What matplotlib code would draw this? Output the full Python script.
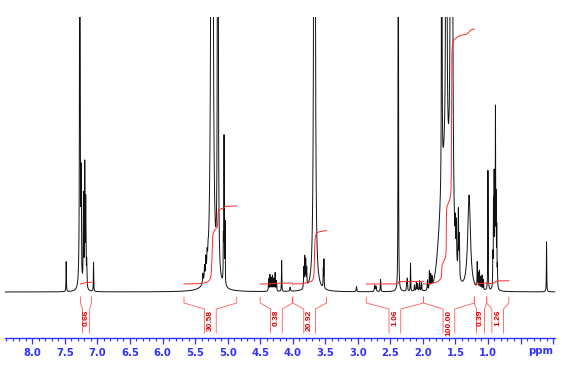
import numpy as np
import matplotlib.pyplot as plt
from matplotlib.ticker import MultipleLocator

# peaks: position (ppm), height (px above baseline), half width (ppm)
peak_ppm = [7.48, 7.27, 7.25, 7.215, 7.195, 7.18, 7.165, 7.06,
            5.38, 5.355, 5.335, 5.315, 5.30, 5.24, 5.15, 5.065, 5.055, 5.04,
            4.37, 4.35, 4.33, 4.31, 4.29, 4.27, 4.25, 4.17, 4.04,
            3.83, 3.815, 3.80, 3.785, 3.665, 3.53, 3.52, 3.02,
            2.74, 2.72, 2.65, 2.378, 2.25, 2.24, 2.19, 2.13, 2.10, 2.08, 2.05, 2.02,
            1.93, 1.90, 1.88, 1.86, 1.71, 1.64, 1.56, 1.50, 1.485, 1.455, 1.44,
            1.29, 1.165, 1.15, 1.13, 1.11, 1.09, 1.07, 1.00,
            0.925, 0.915, 0.905, 0.895, 0.885, 0.875, 0.865, 0.855, 0.10]
peak_height = [30, 900, 100, 90, 120, 85, 25, 29,
               10, 14, 18, 15, 10, 3000, 2500, 40, 145, 60,
               12, 16, 13, 15, 12, 18, 10, 31, 4,
               20, 30, 26, 18, 3000, 18, 28, 5,
               6, 5, 12, 3000, 8, 12, 28, 6, 9, 7, 10, 8,
               10, 18, 14, 10, 3000, 12000, 30000, 30, 40, 65, 40,
               95, 25, 15, 18, 12, 14, 10, 120,
               30, 80, 105, 60, 170, 80, 55, 20, 50]
peak_width = [0.003, 0.0035, 0.004, 0.004, 0.004, 0.004, 0.004, 0.003,
              0.006, 0.005, 0.005, 0.005, 0.005, 0.007, 0.003, 0.003, 0.003, 0.003,
              0.004, 0.004, 0.004, 0.004, 0.004, 0.004, 0.004, 0.003, 0.006,
              0.004, 0.004, 0.004, 0.004, 0.005, 0.003, 0.003, 0.005,
              0.006, 0.006, 0.004, 0.0012, 0.004, 0.004, 0.003, 0.004, 0.004, 0.004, 0.004, 0.004,
              0.004, 0.004, 0.004, 0.004, 0.0015, 0.0015, 0.0019, 0.004, 0.004, 0.005, 0.004,
              0.025, 0.003, 0.003, 0.003, 0.003, 0.003, 0.003, 0.003,
              0.003, 0.003, 0.003, 0.003, 0.003, 0.003, 0.003, 0.003, 0.003]

# broad hump under the 1.6 ppm envelope
hump_ppm = [1.66]
hump_height = [120]
hump_sigma = [0.075]

# integration regions (ppm) and values
int_start = [7.26, 5.67, 4.50, 4.00, 2.87, 1.99, 1.21, 1.02]
int_end = [7.09, 4.86, 4.00, 3.48, 1.99, 1.21, 1.02, 0.68]
int_value = [0.66, 30.58, 0.38, 20.92, 1.06, 100.00, 0.39, 1.26]

major_ticks = [8.0, 7.5, 7.0, 6.5, 6.0, 5.5, 5.0, 4.5, 4.0, 3.5, 3.0, 2.5, 2.0, 1.5, 1.0, 0.5, 0.0]
tick_labels = ["8.0", "7.5", "7.0", "6.5", "6.0", "5.5", "5.0", "4.5", "4.0",
               "3.5", "3.0", "2.5", "2.0", "1.5", "1.0", "", ""]

blue = "#2f2fff"
red = "#ff2a2a"

x = np.linspace(8.42, -0.03, 40000)
spec = np.zeros_like(x)
for c, h, w in zip(peak_ppm, peak_height, peak_width):
    spec += h * w**2 / (w**2 + (x - c)**2)
for c, h, s in zip(hump_ppm, hump_height, hump_sigma):
    spec += h * np.exp(-0.5 * ((x - c) / s)**2)

fig = plt.figure(figsize=(5.62, 3.69), dpi=100)
ax = fig.add_axes([5/562, 31/369, 550/562, 321/369])
ax.plot(x, spec, color="#111111", lw=0.7)
ax.set_xlim(8.42, -0.03)
ax.set_ylim(-46, 275)

# integral curves and brackets
for a, b, v in zip(int_start, int_end, int_value):
    m = (x <= a) & (x >= b)
    cum = np.cumsum(spec[m])
    ax.plot(x[m], 8 + v * 2.55 * cum / cum[-1], color=red, lw=0.7)

    mid = (a + b) / 2
    h = min(0.09, 0.65 * (a - b) / 2)
    ax.plot([a, a, mid + h, mid + h], [-5, -11, -17, -41], color="#ff5a5a", lw=0.6)
    ax.plot([b, b, mid - h, mid - h], [-5, -11, -17, -41], color="#ff5a5a", lw=0.6)
    ax.text(mid, -18, f"{v:.2f}", rotation=90, ha="center", va="top",
            color="#e00000", fontsize=6, fontweight="bold", family="Liberation Sans")

# blue ppm ruler
for s in ["top", "left", "right"]:
    ax.spines[s].set_visible(False)
ax.spines["bottom"].set_color(blue)
ax.spines["bottom"].set_linewidth(1.0)
ax.set_yticks([])
ax.set_xticks(major_ticks, labels=tick_labels, fontweight="bold")
ax.xaxis.set_minor_locator(MultipleLocator(0.1))
ax.tick_params(axis="x", which="major", length=4.5, width=0.9, color=blue,
               labelcolor=blue, labelsize=7.2, pad=3)
ax.tick_params(axis="x", which="minor", length=2.5, width=0.8, color=blue)
fig.text(541/562, 1 - 351/369, "ppm", ha="center", va="center",
         color=blue, fontsize=7.2, fontweight="bold")

fig.savefig("out.png", dpi=100)
